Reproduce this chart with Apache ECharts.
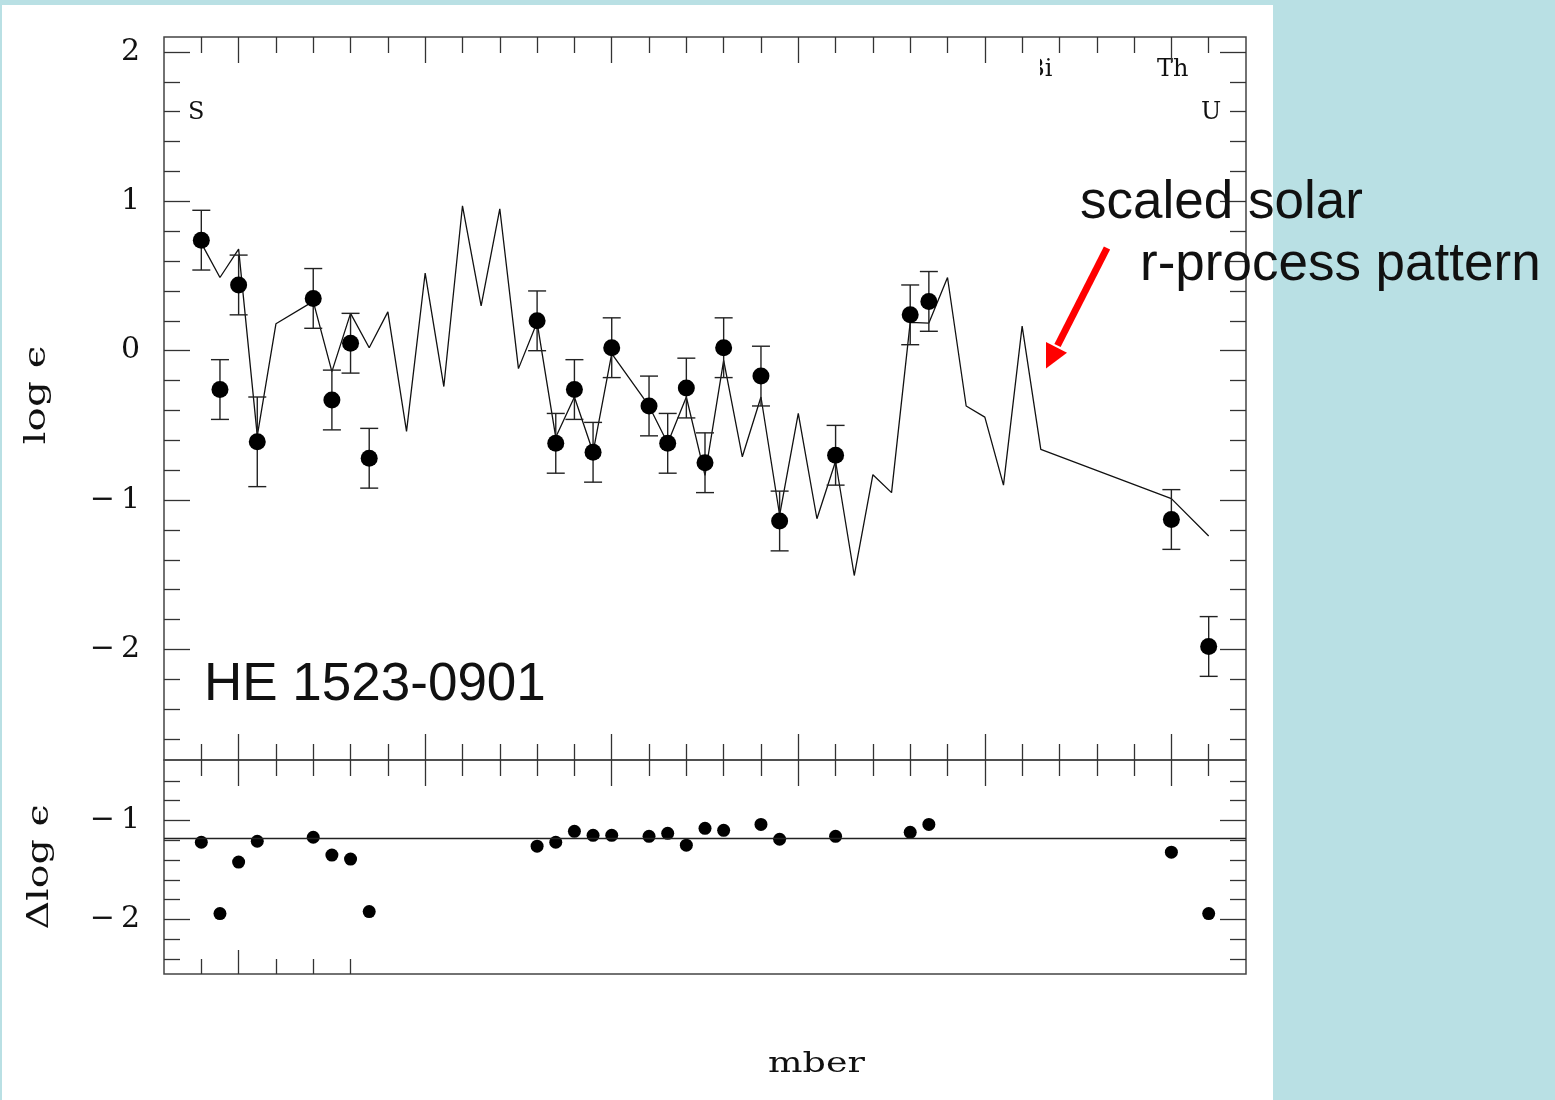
<!DOCTYPE html>
<html><head><meta charset="utf-8">
<script src="https://cdn.jsdelivr.net/npm/echarts@6/dist/echarts.min.js"></script>
<style>html,body{margin:0;padding:0;background:#b9e0e4;} #c{width:1555px;height:1100px;}</style>
</head><body><div id="c"></div>
<script>
// scaled solar r-process pattern (line)
const solarZ   = [38,39,40,41,42,44,45,46,47,48,49,50,51,52,53,54,55,56,57,58,59,60,62,63,64,65,66,67,68,69,70,71,72,73,74,75,76,77,78,79,80,81,82,83,90,92];
const solarVal = [0.72,0.49,0.68,-0.57,0.18,0.33,-0.14,0.25,0.02,0.26,-0.54,0.52,-0.24,0.97,0.30,0.95,-0.12,0.19,-0.58,-0.31,-0.68,-0.02,-0.37,-0.62,-0.31,-0.835,-0.065,-0.71,-0.31,-1.10,-0.42,-1.125,-0.74,-1.505,-0.83,-0.95,0.19,0.185,0.49,-0.37,-0.445,-0.90,0.165,-0.66,-0.99,-1.24];
// observed abundances of HE 1523-0901
const obsZ   = [38,39,40,41,44,45,46,47,56,57,58,59,60,62,63,64,65,66,68,69,72,76,77,90,92];
const obsVal = [0.74,-0.26,0.44,-0.61,0.35,-0.33,0.05,-0.72,0.20,-0.62,-0.26,-0.68,0.02,-0.37,-0.62,-0.25,-0.75,0.02,-0.17,-1.14,-0.70,0.24,0.33,-1.13,-1.98];
const obsErr = [0.2,0.2,0.2,0.3,0.2,0.2,0.2,0.2,0.2,0.2,0.2,0.2,0.2,0.2,0.2,0.2,0.2,0.2,0.2,0.2,0.2,0.2,0.2,0.2,0.2];
// residuals (lower panel)
const residVal = [-1.22,-1.94,-1.42,-1.21,-1.17,-1.35,-1.39,-1.92,-1.26,-1.22,-1.11,-1.15,-1.15,-1.16,-1.13,-1.25,-1.08,-1.10,-1.04,-1.19,-1.16,-1.12,-1.04,-1.32,-1.94];
const residMean = -1.18;
// ticks
const xMajorTicks = [40,50,60,70,80,90];
const xMinorTicks = [38,42,44,46,48,52,54,56,58,62,64,66,68,72,74,76,78,82,84,86,88,92];
const xBottomMajorTicks = [40];
const xBottomMinorTicks = [38,42,44,46];
const yTopMajorTicks = [-2,-1,0,1,2];
const yTopMinorTicks = [-2.6,-2.4,-2.2,-1.8,-1.6,-1.4,-1.2,-0.8,-0.6,-0.4,-0.2,0.2,0.4,0.6,0.8,1.2,1.4,1.6,1.8];
const yTopLabels = [2,1,0,-1,-2];
const yBotMajorTicks = [-1,-2];
const yBotMinorTicks = [-0.6,-0.8,-1.2,-1.4,-1.6,-1.8,-2.2,-2.4];
const yBotLabels = [-1,-2];

const TICK = '#333';
const SERIF = 'DejaVu Serif';
function fmt(v){ return v < 0 ? '\u2212\u2009' + Math.abs(v) : String(v); }
function xAx(grid, pos, vals, len){
  return {type:'value', gridIndex:grid, position:pos, min:36, max:94,
    axisLine:{show:false,onZero:false},
    axisTick:{show:true, inside:true, length:len, customValues:vals, lineStyle:{color:TICK,width:1.3}},
    axisLabel:{show:false}, splitLine:{show:false}};
}
function yAx(grid, pos, min, max, vals, len, labels){
  return {type:'value', gridIndex:grid, position:pos, min:min, max:max,
    axisLine:{show:false,onZero:false},
    axisTick:{show:true, inside:true, length:len, customValues:vals, lineStyle:{color:TICK,width:1.3}},
    axisLabel: labels ? {show:true, customValues:labels, formatter:fmt, margin:24, fontFamily:SERIF, fontSize:30, color:'#111'} : {show:false},
    splitLine:{show:false}};
}
const UMIN = -2.74, UMAX = 2.1, LMIN = -2.55, LMAX = -0.39;

const chart = echarts.init(document.getElementById('c'), null, {renderer:'canvas'});
chart.setOption({
  backgroundColor:'#b9e0e4',
  animation:false,
  grid:[
    {left:164, right:309, top:37, height:723, show:true, borderColor:'#444', borderWidth:1.5, backgroundColor:'transparent'},
    {left:164, right:309, top:760, height:214, show:true, borderColor:'#444', borderWidth:1.5, backgroundColor:'transparent'}
  ],
  xAxis:[
    xAx(0,'bottom',xMinorTicks,16), xAx(0,'bottom',xMajorTicks,26),
    xAx(0,'top',xMinorTicks,16), xAx(0,'top',xMajorTicks,26),
    xAx(1,'top',xMinorTicks,16), xAx(1,'top',xMajorTicks,26),
    xAx(1,'bottom',xBottomMinorTicks,15), xAx(1,'bottom',xBottomMajorTicks,24)
  ],
  yAxis:[
    yAx(0,'left',UMIN,UMAX,yTopMajorTicks,26,yTopLabels), yAx(0,'left',UMIN,UMAX,yTopMinorTicks,16),
    yAx(0,'right',UMIN,UMAX,yTopMajorTicks,26), yAx(0,'right',UMIN,UMAX,yTopMinorTicks,16),
    yAx(1,'left',LMIN,LMAX,yBotMajorTicks,26,yBotLabels), yAx(1,'left',LMIN,LMAX,yBotMinorTicks,16),
    yAx(1,'right',LMIN,LMAX,yBotMajorTicks,26), yAx(1,'right',LMIN,LMAX,yBotMinorTicks,16)
  ],
  series:[
    {type:'line', name:'solar r', xAxisIndex:0, yAxisIndex:0, data:solarZ.map((z,i)=>[z,solarVal[i]]),
     showSymbol:false, symbol:'none', lineStyle:{color:'#111', width:1.3}, z:2},
    {type:'custom', name:'err', xAxisIndex:0, yAxisIndex:0, data:obsZ.map((z,i)=>[z,obsVal[i],obsErr[i]]),
     encode:{x:0,y:1}, z:3,
     renderItem:function(params, api){
       const x = api.value(0), y = api.value(1), e = api.value(2);
       const t = api.coord([x, y+e]), b = api.coord([x, y-e]);
       const hw = 9, st = {stroke:'#222', lineWidth:1.4};
       return {type:'group', children:[
         {type:'line', shape:{x1:t[0],y1:t[1],x2:b[0],y2:b[1]}, style:st},
         {type:'line', shape:{x1:t[0]-hw,y1:t[1],x2:t[0]+hw,y2:t[1]}, style:st},
         {type:'line', shape:{x1:b[0]-hw,y1:b[1],x2:b[0]+hw,y2:b[1]}, style:st}
       ]};
     }},
    {type:'scatter', name:'obs', xAxisIndex:0, yAxisIndex:0, data:obsZ.map((z,i)=>[z,obsVal[i]]),
     symbol:'circle', symbolSize:17, itemStyle:{color:'#000', opacity:1}, z:4},
    {type:'scatter', name:'resid', xAxisIndex:4, yAxisIndex:4, data:obsZ.map((z,i)=>[z,residVal[i]]),
     symbol:'circle', symbolSize:13, itemStyle:{color:'#000', opacity:1}, z:4,
     markLine:{silent:true, symbol:'none', label:{show:false}, lineStyle:{color:'#222', width:1.3, type:'solid'},
       data:[{yAxis:residMean}]}}
  ],
  graphic:[
    {type:'rect', z:-100, silent:true, shape:{x:2,y:5,width:1271,height:1095}, style:{fill:'#ffffff'}},
    {type:'text', x:188, y:101, style:{text:'S', font:'24px "DejaVu Serif"', fill:'#111'}},
    {type:'text', x:1157, y:58, style:{text:'Th', font:'24px "DejaVu Serif"', fill:'#111'}},
    {type:'text', x:1201, y:101, style:{text:'U', font:'24px "DejaVu Serif"', fill:'#111'}},
    {type:'text', x:1027, y:58, style:{text:'Bi', font:'24px "DejaVu Serif"', fill:'#111'}},
    {type:'rect', z:50, silent:true, shape:{x:1018,y:54,width:22,height:30}, style:{fill:'#ffffff'}},
    {type:'text', x:37, y:395, rotation:Math.PI/2, scaleX:1.35, style:{text:'log \u03F5', font:'30px "DejaVu Serif"', fill:'#111', textAlign:'center', textVerticalAlign:'middle'}},
    {type:'text', x:40, y:867, rotation:Math.PI/2, scaleX:1.32, style:{text:'\u0394log \u03F5', font:'30px "DejaVu Serif"', fill:'#111', textAlign:'center', textVerticalAlign:'middle'}},
    {type:'text', x:768, y:1051, scaleX:1.35, style:{text:'mber', font:'27px "DejaVu Serif"', fill:'#111'}},
    {type:'text', x:204, y:659, style:{text:'HE 1523-0901', font:'53px "Liberation Sans"', fill:'#111'}},
    {type:'text', x:1080, y:177, z:1, style:{text:'scaled solar', font:'53px "Liberation Sans"', fill:'#111'}},
    {type:'text', x:1140, y:239, z:1, style:{text:'r-process pattern', font:'53px "Liberation Sans"', fill:'#111'}},
    {type:'line', shape:{x1:1107,y1:248,x2:1057.5,y2:345.5}, style:{stroke:'#ff0000', lineWidth:7, lineCap:'butt'}},
    {type:'polygon', shape:{points:[[1046,368.5],[1046,342],[1067,352.7]]}, style:{fill:'#ff0000'}}
  ]
});
</script></body></html>
